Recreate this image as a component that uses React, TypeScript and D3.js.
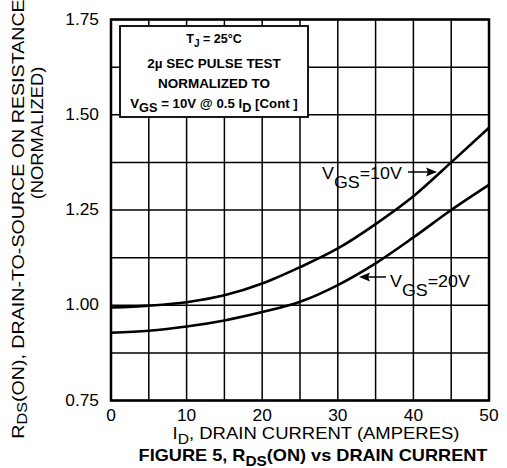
import React from "react";
import * as d3 from "d3";

const current = [0, 5, 10, 15, 20, 25, 30, 35, 40, 45, 50];
const rdsVgs10 = [0.994, 0.999, 1.008, 1.026, 1.057, 1.1, 1.149, 1.213, 1.286, 1.375, 1.466];
const rdsVgs20 = [0.928, 0.933, 0.944, 0.96, 0.982, 1.009, 1.053, 1.11, 1.178, 1.25, 1.316];
const xTicks = [0, 10, 20, 30, 40, 50];
const yTicks = [0.75, 1.0, 1.25, 1.5, 1.75];
const xGrid = d3.range(0, 50.001, 5);
const yGrid = d3.range(0.75, 1.7501, 0.125);

const FONT = "'Liberation Sans', Arial, Helvetica, sans-serif";

function T({ x, y, sx = 1, rot = 0, anchor = "start", size, weight = "normal", children }: any) {
  return (
    <g transform={`translate(${x},${y}) rotate(${rot}) scale(${sx},1)`}>
      <text textAnchor={anchor} fontSize={size} fontWeight={weight} fontFamily={FONT} fill="#000">
        {children}
      </text>
    </g>
  );
}

export default function App() {
  const W = 507, H = 468;
  const x = d3.scaleLinear().domain([0, 50]).range([111, 489]);
  const y = d3.scaleLinear().domain([0.75, 1.75]).range([400.5, 19.5]);
  const line = d3
    .line<number>()
    .x((_, i) => x(current[i]))
    .y((d) => y(d))
    .curve(d3.curveMonotoneX);

  return (
    <svg width={W} height={H} style={{ position: "absolute", left: 0, top: 0, background: "#fff" }}>
      <rect width={W} height={H} fill="#fff" />
      {/* grid */}
      {xGrid.map((v) => (
        <line key={"gx" + v} x1={x(v)} x2={x(v)} y1={y(0.75)} y2={y(1.75)} stroke="#000" strokeWidth={1.5} />
      ))}
      {yGrid.map((v) => (
        <line key={"gy" + v} x1={x(0)} x2={x(50)} y1={y(v)} y2={y(v)} stroke="#000" strokeWidth={1.5} />
      ))}
      {/* frame */}
      <rect x={x(0)} y={y(1.75)} width={x(50) - x(0)} height={y(0.75) - y(1.75)} fill="none" stroke="#000" strokeWidth={2.5} />

      {/* curves */}
      <path d={line(rdsVgs10) || ""} fill="none" stroke="#000" strokeWidth={2.6} />
      <path d={line(rdsVgs20) || ""} fill="none" stroke="#000" strokeWidth={2.6} />

      {/* info box */}
      <rect x={120} y={26} width={188} height={91} fill="#fff" stroke="#000" strokeWidth={1.8} />
      <T x={214} y={43} anchor="middle" size={12.5} weight="bold">
        T<tspan fontSize={10} dy={4}>J</tspan>
        <tspan dy={-4}> = 25°C</tspan>
      </T>
      <T x={214} y={68} anchor="middle" size={12.5} weight="bold" sx={1.08}>
        2µ SEC  PULSE TEST
      </T>
      <T x={214} y={88} anchor="middle" size={12.5} weight="bold" sx={1.08}>
        NORMALIZED TO
      </T>
      <T x={214} y={108} anchor="middle" size={12.5} weight="bold" sx={1.06}>
        V<tspan fontSize={12} dy={4}>GS</tspan>
        <tspan dy={-4}> = 10V  @  0.5  I</tspan>
        <tspan fontSize={12} dy={4}>D</tspan>
        <tspan dy={-4}> [Cont ]</tspan>
      </T>

      {/* curve labels */}
      <T x={322} y={179} size={17} sx={1.05}>
        V<tspan dy={9}>GS</tspan>
        <tspan dy={-9}>=10V</tspan>
      </T>
      <line x1={408} x2={430} y1={172} y2={172} stroke="#000" strokeWidth={1.5} />
      <path d="M437,172 L426,167.5 L428,172 L426,176.5 Z" fill="#000" />

      <T x={390} y={287} size={17} sx={1.05}>
        V<tspan dy={9}>GS</tspan>
        <tspan dy={-9}>=20V</tspan>
      </T>
      <line x1={366} x2={386} y1={277} y2={277} stroke="#000" strokeWidth={1.5} />
      <path d="M359,277 L370,272.5 L368,277 L370,281.5 Z" fill="#000" />

      {/* y tick labels */}
      {yTicks.map((v) => (
        <T key={"yt" + v} x={99} y={y(v) + 5} anchor="end" size={16.5} sx={1.05}>
          {v.toFixed(2)}
        </T>
      ))}
      {/* x tick labels */}
      {xTicks.map((v) => (
        <T key={"xt" + v} x={x(v)} y={421} anchor="middle" size={16.5} sx={1.05}>
          {v}
        </T>
      ))}

      {/* axis titles */}
      <T x={316} y={439} anchor="middle" size={16.5} sx={1.12}>
        I<tspan fontSize={14} dy={5}>D</tspan>
        <tspan dy={-5}>, DRAIN CURRENT (AMPERES)</tspan>
      </T>
      <T x={313} y={461} anchor="middle" size={16.5} weight="bold" sx={1.1}>
        FIGURE 5, R<tspan fontSize={14} dy={5}>DS</tspan>
        <tspan dy={-5}>(ON) vs DRAIN CURRENT</tspan>
      </T>
      <T x={24} y={219} rot={-90} anchor="middle" size={17} sx={1.155}>
        R<tspan fontSize={14} dy={3}>DS</tspan>
        <tspan dy={-3}>(ON), DRAIN-TO-SOURCE ON RESISTANCE</tspan>
      </T>
      <T x={43} y={133} rot={-90} anchor="middle" size={17} sx={1.08}>
        (NORMALIZED)
      </T>
    </svg>
  );
}
